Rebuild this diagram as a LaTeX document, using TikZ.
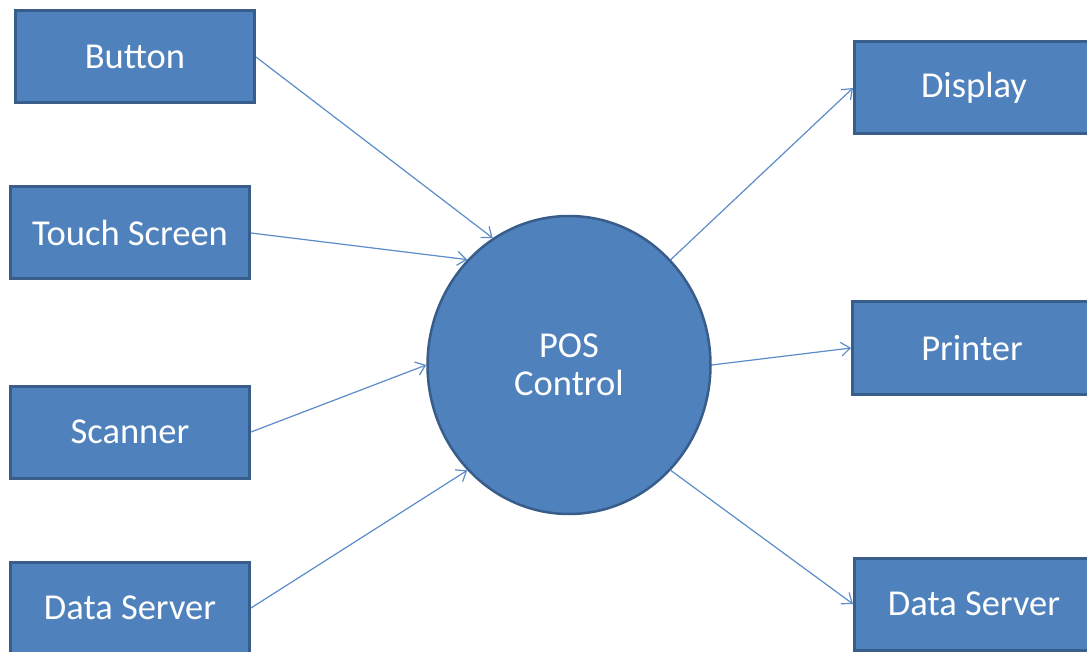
\documentclass[tikz,border=0pt]{standalone}
\usepackage{fontspec}
\setmainfont{Carlito}
\usetikzlibrary{arrows.meta,shapes.geometric}
\definecolor{boxfill}{HTML}{4F81BD}
\definecolor{boxline}{HTML}{385D8A}
\definecolor{wire}{HTML}{5B8CC8}
\begin{document}
\begin{tikzpicture}[x=1pt,y=-1pt,
  unit/.style={rectangle,draw=boxline,line width=3pt,fill=boxfill,
    minimum width=239pt,minimum height=92pt,inner sep=0pt,
    text=white,font=\fontsize{36.5}{40}\selectfont},
  hub/.style={ellipse,draw=boxline,line width=2.5pt,fill=boxfill,
    minimum width=283pt,minimum height=298pt,inner sep=0pt,
    text=white,align=center,font=\fontsize{36.5}{38}\selectfont},
  link/.style={draw=wire,line width=1.2pt,
    -{Straight Barb[length=9pt,width=14pt,line width=1.2pt]}}]
  \useasboundingbox (0,0) rectangle (1087,652);
  % inputs
  \node[unit] (button) at (135,57) {Button};
  \node[unit] (touch)  at (130,233) {Touch Screen};
  \node[unit] (scan)   at (130,432) {Scanner};
  \node[unit] (dsin)   at (130,608) {Data Server};
  % central controller
  \node[hub] (pos) at (569,365) {POS\\Control};
  % outputs
  \node[unit] (disp)   at (974,88) {Display};
  \node[unit] (print)  at (972,348) {Printer};
  \node[unit] (dsout)  at (974,604) {Data Server};
  % connectors
  \draw[link] (button.east) -- (pos.121);
  \draw[link] (touch.east)  -- (pos.134);
  \draw[link] (scan.east)   -- (pos.west);
  \draw[link] (dsin.east)   -- (pos.226);
  \draw[link] (pos.46)      -- (disp.west);
  \draw[link] (pos.east)    -- (print.west);
  \draw[link] (pos.-46)     -- (dsout.west);
\end{tikzpicture}
\end{document}
